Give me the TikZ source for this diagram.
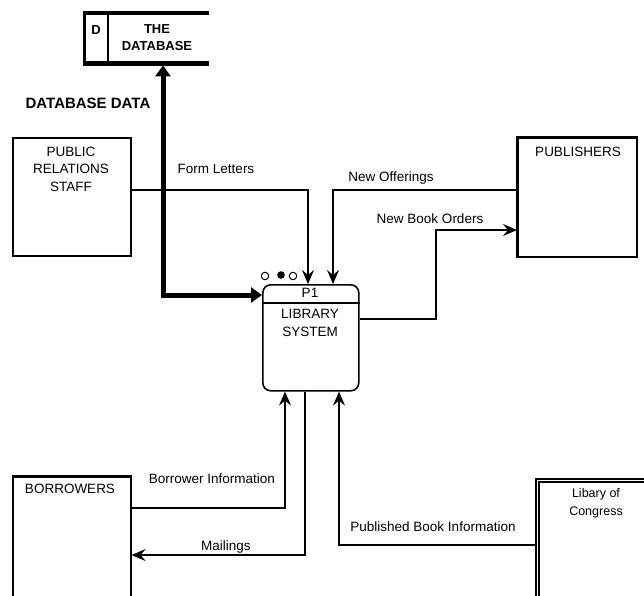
\documentclass[tikz,border=0pt]{standalone}
\usepackage{fontspec}
\setmainfont{Liberation Sans}
\usetikzlibrary{arrows.meta}
\begin{document}
\begin{tikzpicture}[x=1pt,y=-1pt,
  font=\fontsize{13.5}{17.5}\selectfont,
  box/.style={draw, line width=1.6pt, inner sep=0pt, anchor=north west},
  lbl/.style={inner sep=0pt, align=center},
  flow/.style={line width=1.4pt, -{Stealth[length=14pt,width=12pt,inset=5pt]}},
  dbflow/.style={line width=5pt, {Triangle[length=11pt,width=15pt]}-{Triangle[length=11pt,width=15pt]}},
  ring/.style={circle, draw, line width=1pt, minimum size=7.5pt, inner sep=0pt}]
\useasboundingbox (0,0) rectangle (644,595);

% data store
\node[anchor=north west, minimum width=126pt, minimum height=50pt, inner sep=0pt] (db) at (83,13) {};
\draw[line width=4.5pt] (db.north west) -- (db.north east);
\draw[line width=4.5pt] (db.south west) -- (db.south east);
\draw[line width=3pt] ([xshift=1.5pt]db.north west) -- ([xshift=1.5pt]db.south west);
\draw[line width=2.5pt] ([xshift=25pt]db.north west) -- ([xshift=25pt]db.south west);
\node[lbl, font=\fontsize{13}{17}\selectfont\bfseries] (dbd) at (96,30) {D};
\node[lbl, font=\fontsize{13}{17}\selectfont\bfseries] (dbt) at (157,38) {THE\\DATABASE};

% external entities
\node[box, minimum width=118pt, minimum height=118pt] (prs) at (12,137) {};
\node[lbl] (prst) at (71,169) {PUBLIC\\RELATIONS\\STAFF};

\node[box, minimum width=119pt, minimum height=119pt] (pub) at (517,137) {};
\draw[line width=2.6pt] (pub.south west) -- (pub.north west) -- (pub.north east);
\node[lbl] (pubt) at (578,152) {PUBLISHERS};

\node[box, minimum width=118pt, minimum height=130pt] (bor) at (12,476) {};
\draw[line width=2.6pt] (bor.north west) -- (bor.north east);
\node[lbl] (bort) at (70,489) {BORROWERS};

\node[box, minimum width=118pt, minimum height=130pt] (loc) at (535,478) {};
\draw[line width=1.2pt] (loc.south west) ++(4pt,0) |- ([yshift=-4pt]loc.north east);
\node[lbl, font=\fontsize{12.5}{18}\selectfont] (loct) at (596,503) {Libary of\\Congress};

% process
\node[box, rounded corners=8pt, minimum width=96pt, minimum height=106pt] (proc) at (262,284) {};
\draw[line width=1.6pt] (proc.west |- 0,303) -- (proc.east |- 0,303);
\node[lbl] (p1) at (310,293) {P1};
\node[lbl] (pname) at (310,323) {LIBRARY\\SYSTEM};
\node[ring] (c1) at (265,276) {};
\node[ring, fill=black, minimum size=6.5pt] (c2) at (281,275) {};
\node[ring] (c3) at (293,276) {};

% flows
\draw[dbflow, shorten <=2pt] (db.south -| 163,0) |- (proc.west |- 0,295);
\node[lbl, font=\fontsize{15}{17}\selectfont\bfseries] (dbdata) at (88,103) {DATABASE DATA};

\draw[flow] (prs.east |- 0,190) -| (proc.north -| 308,0);
\node[lbl] (fl) at (216,169) {Form Letters};

\draw[flow] (pub.west |- 0,190) -| (proc.north -| 333,0);
\node[lbl] (no) at (391,178) {New Offerings};

\draw[flow] (proc.east |- 0,319) -| (436,230) -- (pub.west |- 0,230);
\node[lbl] (nbo) at (430,219) {New Book Orders};

\draw[flow] (bor.east |- 0,508) -| (proc.south -| 285,0);
\node[lbl] (bi) at (212,479) {Borrower Information};

\draw[flow] (proc.south -| 305,0) |- (bor.east |- 0,555);
\node[lbl] (ml) at (226,547) {Mailings};

\draw[flow] (loc.west |- 0,545) -| (proc.south -| 339,0);
\node[lbl] (pbi) at (433,527) {Published Book Information};
\end{tikzpicture}
\end{document}
